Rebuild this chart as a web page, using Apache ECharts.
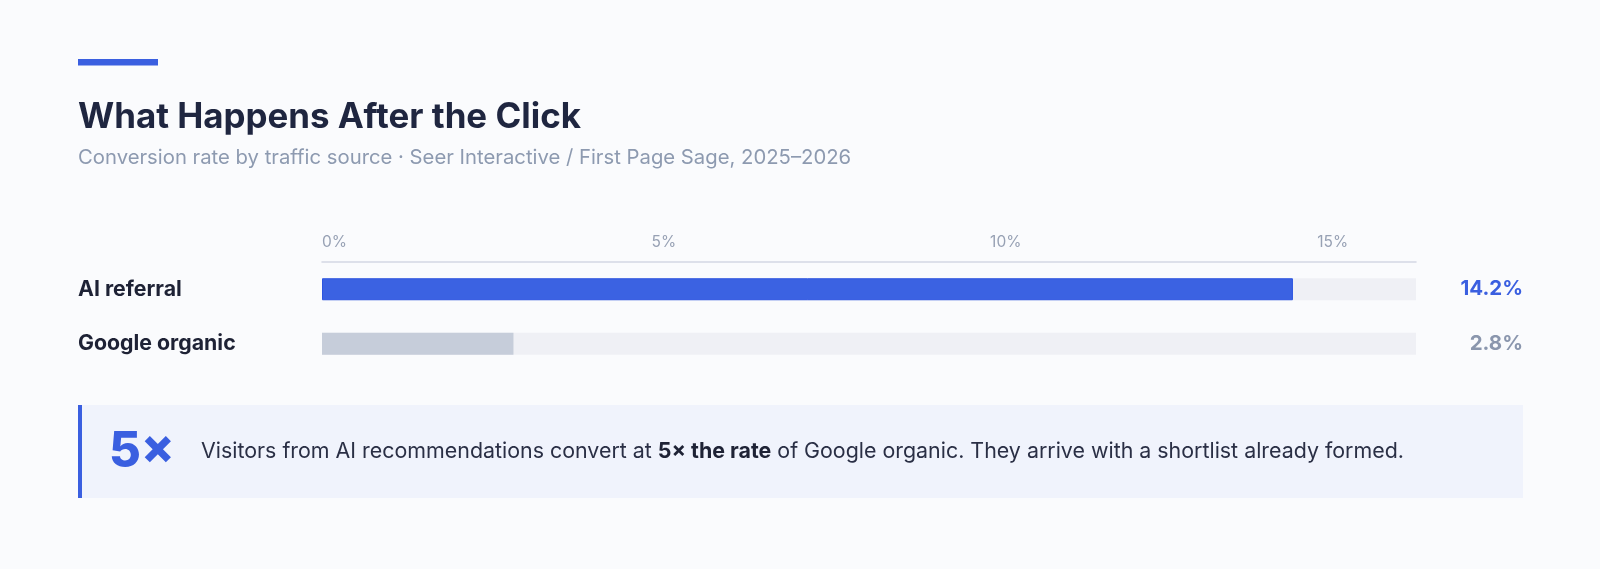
<!DOCTYPE html>
<html>
<head>
<meta charset="utf-8">
<script src="https://cdn.jsdelivr.net/npm/echarts@6/dist/echarts.min.js"></script>
<style>
html,body{margin:0;padding:0;background:#fafbfd;}
#c{width:1600px;height:569px;}
</style>
</head>
<body>
<div id="c"></div>
<script>
const categories = ['AI referral', 'Google organic'];
const values = [14.2, 2.8];
const valueLabels = ['14.2%', '2.8%'];
const tickLabels = ['0%', '5%', '10%', '15%'];
const axisMax = 16;

const FONT = 'Inter, "Noto Sans", sans-serif';
const chart = echarts.init(document.getElementById('c'));
chart.setOption({
  backgroundColor: '#fafbfd',
  animation: false,
  grid: {left: 322, right: 184, top: 262, height: 109},
  xAxis: {
    type: 'value', position: 'top', min: 0, max: axisMax, interval: 5,
    axisLine: {show: true, onZero: false, lineStyle: {color: '#d3d8e3', width: 1.5}},
    axisTick: {show: false},
    splitLine: {show: false},
    axisLabel: {
      show: true, margin: 12, showMaxLabel: false, alignMinLabel: 'left',
      color: '#97a1b4', fontFamily: FONT, fontSize: 15.5,
      formatter: function (v) {
        const i = Math.round(v / 5);
        const t = tickLabels[i];
        if (i === tickLabels.length - 1) return '{r|' + t + '}';
        return t;
      },
      rich: {r: {color: '#97a1b4', fontFamily: FONT, fontSize: 15.5, padding: [0, 30, 0, 0]}}
    }
  },
  yAxis: [{
    type: 'category', inverse: true, data: categories,
    axisLine: {show: false}, axisTick: {show: false},
    axisLabel: {
      margin: 244, align: 'left', color: '#1e2235',
      fontFamily: FONT, fontSize: 21.3, fontWeight: 700
    }
  }, {
    type: 'category', inverse: true, data: categories, position: 'right',
    axisLine: {show: false}, axisTick: {show: false},
    axisLabel: {
      margin: 107, align: 'right',
      formatter: function (v, i) { return (i === 0 ? '{a|' : '{b|') + valueLabels[i] + '}'; },
      rich: {
        a: {color: '#3a5fe0', fontFamily: FONT, fontSize: 20.5, fontWeight: 700},
        b: {color: '#8a96ad', fontFamily: FONT, fontSize: 20.5, fontWeight: 700}
      }
    }
  }],
  series: [{
    type: 'bar', yAxisIndex: 0, barWidth: 22,
    showBackground: true,
    backgroundStyle: {color: '#eff0f5'},
    data: values.map(function (v, i) {
      return {
        value: v,
        itemStyle: i === 0
          ? {color: '#3b62e2', borderColor: '#2c55e0', borderWidth: 1}
          : {color: '#c6cdda'}
      };
    })
  }],
  graphic: [
    {type: 'rect', x: 78, y: 59, shape: {width: 80, height: 6.5}, style: {fill: '#3a5fe0'}},
    {type: 'text', x: 78, y: 118, style: {
      text: 'What Happens After the Click', fill: '#1f2640',
      font: '700 34.9px ' + FONT, verticalAlign: 'middle'
    }},
    {type: 'text', x: 78, y: 158, style: {
      text: 'Conversion rate by traffic source · Seer Interactive / First Page Sage, 2025–2026',
      fill: '#8d9ab0', font: '400 20.3px ' + FONT, verticalAlign: 'middle'
    }},
    {type: 'rect', x: 78, y: 405, shape: {width: 1445, height: 93}, style: {fill: '#f0f3fc'}},
    {type: 'rect', x: 78, y: 405, shape: {width: 4, height: 93}, style: {fill: '#3a5fe0'}},
    {type: 'text', x: 109, y: 452, style: {
      text: '5×', fill: '#3a5fe0', font: '800 49px ' + FONT, verticalAlign: 'middle'
    }},
    {type: 'text', x: 201, y: 452, style: {
      text: 'Visitors from AI recommendations convert at {b|5× the rate} of Google organic. They arrive with a shortlist already formed.',
      fill: '#2a2f45', fontFamily: FONT, fontSize: 21.4, verticalAlign: 'middle',
      rich: {b: {fontFamily: FONT, fontSize: 21.4, fontWeight: 700, fill: '#1e2235'}}
    }}
  ]
});
</script>
</body>
</html>
